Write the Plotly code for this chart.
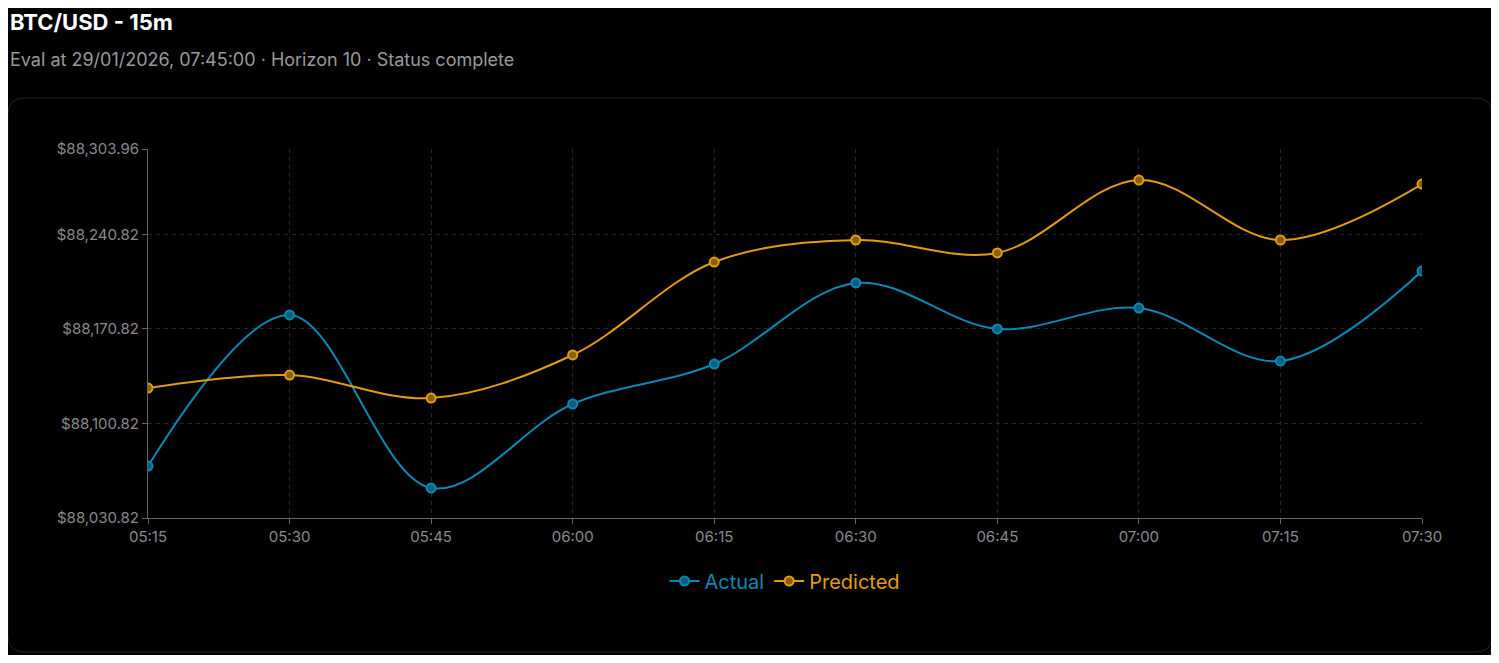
import plotly.graph_objects as go

times = ["05:15","05:30","05:45","06:00","06:15","06:30","06:45","07:00","07:15","07:30"]
actual = [88069.3,88181.1,88053.0,88115.2,88144.8,88204.8,88170.8,88186.2,88147.0,88213.6]
predicted = [88127.0,88136.6,88119.6,88151.5,88220.3,88236.6,88227.0,88281.0,88236.6,88278.0]
yticks = [88030.82,88100.82,88170.82,88240.82,88303.96]
ytext = ["$88,030.82","$88,100.82","$88,170.82","$88,240.82","$88,303.96"]

OFF = 8
W,H = 1499-2*OFF, 663-2*OFF
L,R,T,B = 148-OFF, 77-OFF, 149-OFF, 145-OFF
pw,ph = W-L-R, H-T-B
def px(x): return (x-OFF-L)/pw
def py(y): return (H-B-(y-OFF))/ph

fig = go.Figure()
fig.add_trace(go.Scatter(x=list(range(len(times))), y=actual, name="<span style='color:#0a88b4'>Actual</span>", mode="lines+markers",
    line=dict(color="#0a88b4", width=2, shape="spline"),
    marker=dict(size=9, color="#0b5f7e", line=dict(color="#0a88b4", width=2))))
fig.add_trace(go.Scatter(x=list(range(len(times))), y=predicted, name="<span style='color:#e39c12'>Predicted</span>", mode="lines+markers",
    line=dict(color="#e39c12", width=2, shape="spline"),
    marker=dict(size=9, color="#8a5f0c", line=dict(color="#e39c12", width=2))))

x0,x1,y0,y1 = px(8),px(1492),py(652),py(98)
rx,ry = 16/pw,16/ph
path = (f"M {x0+rx} {y1} L {x1-rx} {y1} Q {x1} {y1} {x1} {y1-ry} L {x1} {y0+ry} Q {x1} {y0} {x1-rx} {y0} "
        f"L {x0+rx} {y0} Q {x0} {y0} {x0} {y0+ry} L {x0} {y1-ry} Q {x0} {y1} {x0+rx} {y1} Z")
fig.add_shape(type="path", path=path, xref="paper", yref="paper", line=dict(color="#222222", width=1), layer="below")

fig.add_annotation(text="<b>BTC/USD - 15m</b>", x=px(8), y=py(22), xref="paper", yref="paper",
    xanchor="left", yanchor="middle", showarrow=False, font=dict(size=22, color="#ffffff"))
fig.add_annotation(text="Eval at 29/01/2026, 07:45:00 · Horizon 10 · Status complete", x=px(8), y=py(59),
    xref="paper", yref="paper", xanchor="left", yanchor="middle", showarrow=False,
    font=dict(size=18, color="#9a9a9a"))

fig.update_layout(
    width=W, height=H, margin=dict(l=L,r=R,t=T,b=B),
    paper_bgcolor="#000000", plot_bgcolor="#000000",
    font=dict(family="Inter", color="#8a8a8a", size=15),
    showlegend=True,
    legend=dict(orientation="h", x=0.5, xanchor="center", y=py(581), yanchor="middle",
                font=dict(size=20, color="#0a88b4")),
    xaxis=dict(tickmode="array", tickvals=list(range(len(times))), ticktext=times, range=[0,9],
               showgrid=True, gridcolor="#262626", griddash="4px,4px", showline=True, linecolor="#666666",
               ticks="outside", tickcolor="#666666", ticklen=5, zeroline=False),
    yaxis=dict(tickmode="array", tickvals=yticks, ticktext=ytext, range=[88030.82,88303.96],
               showgrid=True, gridcolor="#262626", griddash="4px,4px", showline=True, linecolor="#666666",
               ticks="outside", tickcolor="#666666", ticklen=5, zeroline=False),
)
fig.write_html("out.html")
